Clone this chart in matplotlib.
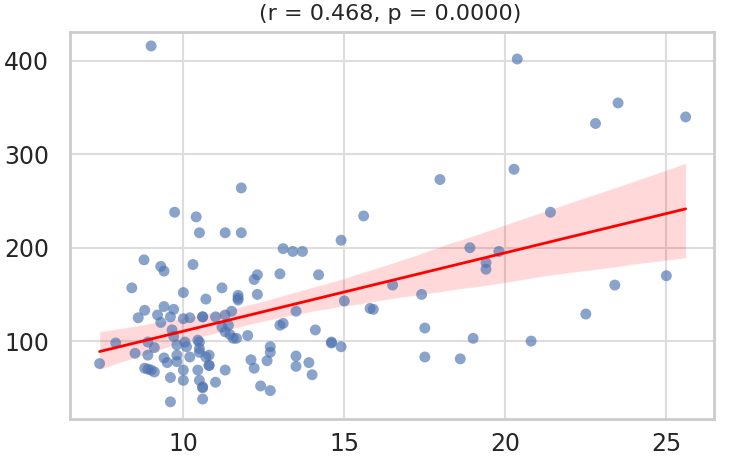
import numpy as np
import matplotlib
matplotlib.use("Agg")
import matplotlib.pyplot as plt
import seaborn as sns

sns.set_theme(style="whitegrid")
plt.rcParams['font.family'] = ['DejaVu Sans']

x_vals = [9.0, 20.37, 23.5, 22.8, 25.6, 17.97, 11.8, 20.27, 9.73, 10.4, 10.5, 11.3, 11.8,
          15.6, 21.4, 14.9, 13.1, 13.4, 13.7, 8.78, 9.3, 9.4, 10.3, 12.2, 12.3, 13.0, 14.2,
          8.4, 10.0, 11.2, 11.7, 11.7, 12.3, 10.7, 15.0,
          18.9, 19.8, 19.4, 19.4, 16.5, 17.4, 15.8, 15.9, 17.5, 19.0, 20.8, 17.5, 18.6,
          22.5, 23.4, 25.0, 14.9, 14.6,
          8.8, 8.6, 9.4, 9.7, 9.2, 9.6, 10.0, 9.3, 10.2, 10.6, 9.65, 9.7, 10.05, 10.45,
          8.9, 7.9, 9.1, 8.5, 8.9, 9.4, 9.8, 9.8, 10.1, 10.5, 10.2, 10.7, 7.4, 9.5, 9.8,
          10.0, 10.45, 10.8, 8.8, 8.9, 9.0, 9.1, 9.6, 10.0, 10.5, 10.6, 9.6, 10.6,
          11.7, 10.6, 11.0, 11.3, 11.5, 11.2, 11.4, 11.3, 11.45, 11.55, 11.65, 12.0, 13.0,
          13.1, 13.5, 14.1, 10.5, 10.8, 10.8, 10.5, 11.3, 12.1, 12.2, 12.6, 12.7, 12.7,
          13.5, 13.5, 13.9, 14.0, 14.6, 10.6, 11.0, 12.4, 12.7]
y_vals = [416, 402, 355, 333, 340, 273, 264, 284, 238, 233, 216, 216, 216,
          234, 238, 208, 199, 196, 196, 187, 180, 175, 182, 166, 171, 172, 171,
          157, 152, 157, 149, 146, 150, 145, 143,
          200, 196, 184, 177, 160, 150, 135, 134, 114, 103, 100, 83, 81,
          129, 160, 170, 94, 98,
          133, 125, 137, 134, 128, 126, 124, 120, 125, 126, 112, 105, 99, 101,
          99, 98, 93, 87, 85, 82, 96, 85, 94, 92, 83, 83, 76, 77, 78,
          69, 69, 74, 71, 70, 69, 67, 61, 58, 58, 50, 35, 38,
          144, 126, 126, 128, 132, 115, 117, 110, 107, 103, 103, 106, 117,
          119, 132, 112, 99, 85, 74, 88, 69, 80, 71, 79, 94, 88,
          84, 73, 77, 64, 99, 51, 56, 52, 47]
title_text = "(r = 0.468, p = 0.0000)"
x_ticks = [10, 15, 20, 25]
y_ticks = [100, 200, 300, 400]

x = np.array(x_vals)
y = np.array(y_vals, dtype=float)

fig = plt.figure(figsize=(7.5, 4.63), dpi=100)
ax = fig.add_axes([0.0933, 0.095, 0.8587, 0.836])

sns.regplot(x=x, y=y, ax=ax, ci=95, n_boot=1000, seed=3,
            scatter_kws=dict(s=62, color="#4C72B0", alpha=0.65, edgecolors="none", zorder=3),
            line_kws=dict(color="red", linewidth=2, zorder=4))
for coll in ax.collections[1:]:
    coll.set_facecolor((1.0, 0.0, 0.0, 0.15))

ax.set_xlim(6.48, 26.48)
ax.set_ylim(16.6, 431)
ax.set_xticks(x_ticks)
ax.set_yticks(y_ticks)
ax.tick_params(axis="both", labelsize=17, colors="#262626", length=0)
ax.tick_params(axis="y", pad=15)
ax.tick_params(axis="x", pad=9)
for sp in ax.spines.values():
    sp.set_color("#cccccc")
    sp.set_linewidth(2)
ax.grid(color="#dddddd", linewidth=1.5)

fig.text(0.52, 0.97, title_text, ha="center", va="center", fontsize=16, color="#262626")

fig.savefig("out.png", dpi=100)
